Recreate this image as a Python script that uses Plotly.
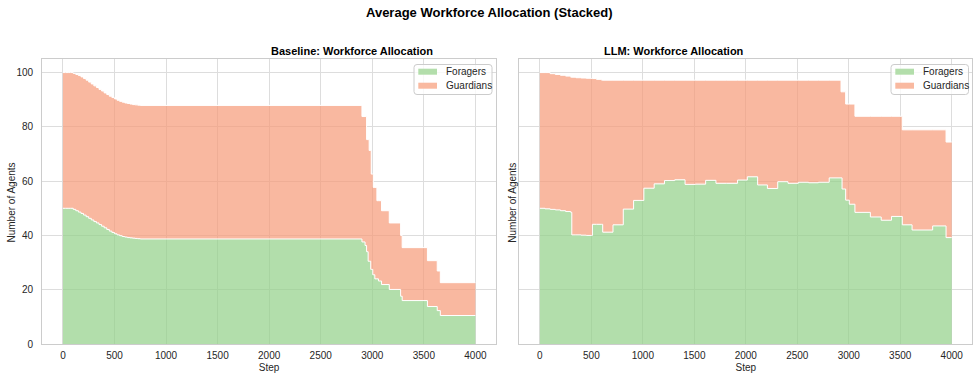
import plotly.graph_objects as go

# ---------------- Data ----------------
steps_base = [0, 25, 50, 75, 100, 125, 150, 175, 200, 225, 250, 275, 300, 325, 350, 375, 400, 425, 450,
              475, 500, 525, 550, 575, 600, 625, 650, 675, 700, 725, 750,
              2900, 2930, 2945, 2960, 2970, 2985, 2990, 3005, 3010, 3025, 3045, 3060, 3090,
              3165, 3275, 3290, 3535, 3630, 3660, 4000]
foragers_base = [50.0, 50.0, 50.0, 50.0, 49.6, 49.1, 48.6, 48.1, 47.5, 46.9, 46.3, 45.7, 45.1, 44.6, 44.0,
                 43.4, 42.8, 42.2, 41.6, 41.1, 40.6, 40.2, 39.9, 39.6, 39.4, 39.2, 39.1, 39.0, 38.9, 38.8, 38.7,
                 37.6, 36.3, 34.0, 30.5, 30.5, 27.5, 27.5, 25.5, 25.5, 24.0, 24.0, 23.2, 21.9,
                 20.1, 17.6, 16.0, 13.8, 12.3, 10.5, 10.5]
guardians_base = [50.0, 50.0, 50.0, 50.0, 50.1, 50.2, 50.3, 50.3, 50.3, 50.3, 50.2, 50.1, 50.0, 49.9, 49.8,
                  49.8, 49.7, 49.7, 49.7, 49.7, 49.7, 49.6, 49.5, 49.5, 49.4, 49.4, 49.3, 49.2, 49.2, 49.2, 49.2,
                  46.2, 47.5, 41.3, 44.8, 40.8, 43.8, 35.1, 37.1, 32.2, 33.7, 28.8, 29.6, 27.2,
                  24.5, 22.4, 19.5, 16.9, 14.6, 12.1, 12.1]

steps_llm = [0, 50, 100, 150, 200, 250, 300, 310, 350, 400, 450, 500, 510, 550, 600, 610, 710, 810, 910,
             1010, 1110, 1210, 1310, 1410, 1510, 1610, 1710, 1810, 1920, 2015, 2115, 2210, 2310, 2410,
             2510, 2610, 2705, 2810, 2925, 2935, 2970, 3005, 3060, 3210, 3315, 3415, 3520, 3615, 3815,
             3945, 4000]
foragers_llm = [50.0, 49.8, 49.6, 49.4, 49.1, 48.8, 48.5, 40.2, 40.2, 40.1, 40.0, 40.0, 44.1, 44.1, 44.1, 41.2,
                43.9, 49.7, 52.9, 57.4, 59.0, 60.2, 60.5, 58.8, 58.9, 60.3, 59.2, 59.2, 60.4, 61.6, 58.6,
                57.3, 59.8, 59.2, 59.6, 59.4, 59.6, 61.2, 61.2, 57.1, 53.0, 51.5, 48.5, 46.8, 45.6, 47.0,
                43.9, 42.0, 43.5, 39.2, 39.2]
guardians_llm = [50.0, 50.2, 50.0, 49.9, 49.9, 49.9, 49.8, 58.1, 57.9, 57.9, 57.9, 57.8, 53.7, 53.4, 53.1, 56.0,
                 53.3, 47.5, 44.3, 39.8, 38.2, 37.0, 36.7, 38.4, 38.3, 36.9, 38.0, 38.0, 36.8, 35.6, 38.6,
                 39.9, 37.4, 38.0, 37.6, 37.8, 37.6, 36.0, 31.7, 35.8, 35.4, 36.9, 35.4, 37.1, 38.3, 36.9,
                 35.0, 36.9, 35.4, 35.2, 35.2]

x_ticks = [0, 500, 1000, 1500, 2000, 2500, 3000, 3500, 4000]
y_ticks = [0, 20, 40, 60, 80, 100]

main_title = "Average Workforce Allocation (Stacked)"
sub_titles = ["Baseline: Workforce Allocation", "LLM: Workforce Allocation"]
series_names = ["Foragers", "Guardians"]
x_title = "Step"
y_title = "Number of Agents"

# ---------------- Style ----------------
FONT = "Liberation Sans, Arial, sans-serif"
GREEN = "rgba(146,208,135,0.7)"
SALMON = "rgba(246,154,120,0.7)"
GREEN_PATCH = "rgb(179,222,171)"
SALMON_PATCH = "rgb(249,185,160)"
GRID = "#dddddd"
FRAME = "#cccccc"
TXT = "#262626"
W, H = 979, 379
MT, MB = 59, 35
PH = H - MT - MB


def px_x(px):
    return px / W


def px_y(py):
    return 1 - (py - MT) / PH


fig = go.Figure()

panels = [
    (steps_base, foragers_base, guardians_base, "x", "y", "base"),
    (steps_llm, foragers_llm, guardians_llm, "x2", "y2", "llm"),
]
for steps, fo, gu, xa, ya, grp in panels:
    for name, vals, col in [(series_names[0], fo, GREEN), (series_names[1], gu, SALMON)]:
        fig.add_trace(go.Scatter(
            x=steps, y=vals, name=name, xaxis=xa, yaxis=ya,
            stackgroup=grp, mode="lines", line=dict(color="white", width=1, shape="hv"),
            fillcolor=col, showlegend=False, hoverinfo="skip",
        ))

dom_left = [42.3 / W, 496.0 / W]
dom_right = [519.3 / W, 972.3 / W]

base_axis = dict(
    showgrid=True, gridcolor=GRID, gridwidth=1, zeroline=False,
    showline=True, linecolor=FRAME, linewidth=1.25, mirror=True,
    ticks="outside", tickcolor="rgba(0,0,0,0)",
    tickfont=dict(family=FONT, size=10, color=TXT),
    automargin=False,
)
tfont = dict(family=FONT, size=10, color=TXT)

fig.update_layout(
    width=W, height=H,
    margin=dict(l=0, r=0, t=MT, b=MB),
    paper_bgcolor="white", plot_bgcolor="white",
    font=dict(family=FONT, color=TXT),
    showlegend=False,
    xaxis=dict(domain=dom_left, range=[-200, 4200], tickvals=x_ticks, anchor="y", ticklen=2,
               title=dict(text=x_title, font=tfont, standoff=3), **base_axis),
    yaxis=dict(domain=[0, 1], range=[0, 105], tickvals=y_ticks, anchor="x", ticklen=6, **base_axis),
    xaxis2=dict(domain=dom_right, range=[-200, 4200], tickvals=x_ticks, anchor="y2", ticklen=2,
                title=dict(text=x_title, font=tfont, standoff=3), **base_axis),
    yaxis2=dict(domain=[0, 1], range=[0, 105], tickvals=y_ticks, anchor="x2", showticklabels=False,
                ticklen=0, **base_axis),
)

annotations = [
    dict(text="<b>" + main_title + "</b>", x=0.5, xref="paper", y=px_y(13), yref="paper",
         yanchor="middle", showarrow=False, font=dict(family=FONT, size=13, color="black")),
    dict(text="<b>" + sub_titles[0] + "</b>", x=(dom_left[0] + dom_left[1]) / 2, xref="paper",
         y=px_y(51.5), yref="paper", yanchor="middle", showarrow=False,
         font=dict(family=FONT, size=11, color="black")),
    dict(text="<b>" + sub_titles[1] + "</b>", x=(dom_right[0] + dom_right[1]) / 2, xref="paper",
         y=px_y(51.5), yref="paper", yanchor="middle", showarrow=False,
         font=dict(family=FONT, size=11, color="black")),
]
# y-axis titles as rotated annotations, placed in pixels
for cx in (10.5, 511.7):
    annotations.append(dict(text=y_title, x=px_x(cx), xref="paper", xanchor="center",
                            y=px_y(203), yref="paper", yanchor="middle", textangle=-90,
                            showarrow=False, font=tfont))

shapes = []


def rounded_rect(x0, y0, x1, y1, r):
    X0, X1 = px_x(x0), px_x(x1)
    Y0, Y1 = px_y(y0), px_y(y1)
    rx, ry = r / W, r / PH
    return (f"M {X0 + rx},{Y0} L {X1 - rx},{Y0} Q {X1},{Y0} {X1},{Y0 - ry} "
            f"L {X1},{Y1 + ry} Q {X1},{Y1} {X1 - rx},{Y1} L {X0 + rx},{Y1} "
            f"Q {X0},{Y1} {X0},{Y1 + ry} L {X0},{Y0 - ry} Q {X0},{Y0} {X0 + rx},{Y0} Z")


# manual legends (box, patches, labels), positioned in pixels
for bx0, bx1 in [(414, 492), (891, 968.5)]:
    shapes.append(dict(type="path", xref="paper", yref="paper",
                       path=rounded_rect(bx0, 64.5, bx1, 94.5, 3),
                       fillcolor="rgba(255,255,255,0.8)", line=dict(color=FRAME, width=1)))
    for row, (name, col) in enumerate([(series_names[0], GREEN_PATCH), (series_names[1], SALMON_PATCH)]):
        cy = 71.7 + 14 * row
        shapes.append(dict(type="rect", xref="paper", yref="paper",
                           x0=px_x(bx0 + 4.3), x1=px_x(bx0 + 23), y0=px_y(cy + 3), y1=px_y(cy - 3),
                           fillcolor=col, line=dict(width=0)))
        annotations.append(dict(text=name, x=px_x(bx0 + 30), xref="paper", xanchor="left",
                                y=px_y(cy), yref="paper", yanchor="middle", showarrow=False,
                                font=dict(family=FONT, size=10, color=TXT)))

fig.update_layout(annotations=annotations, shapes=shapes)

fig.write_html("out.html", config={"displayModeBar": False},
               post_script="document.body.style.margin='0';")
